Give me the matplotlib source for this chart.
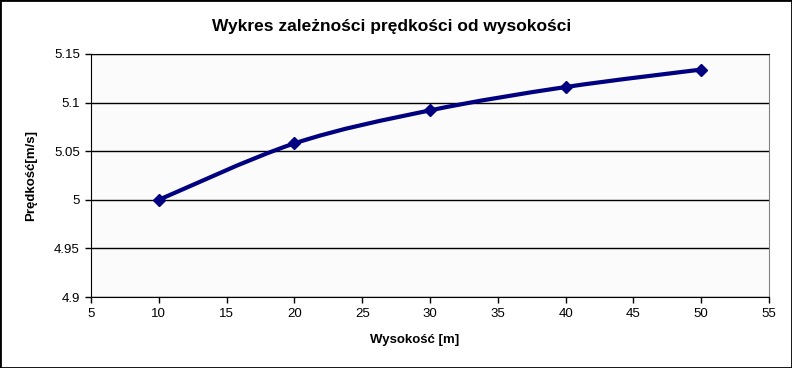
import matplotlib.pyplot as plt
from matplotlib.patches import Rectangle, PathPatch
from matplotlib.path import Path

# data
heights = [10, 20, 30, 40, 50]
speeds = [5.000, 5.058, 5.092, 5.116, 5.134]
xticks = [5, 10, 15, 20, 25, 30, 35, 40, 45, 50, 55]
yticks = [4.9, 4.95, 5.0, 5.05, 5.1, 5.15]
ytick_labels = ["4.9", "4.95", "5", "5.05", "5.1", "5.15"]

plt.rcParams['font.family'] = ['Liberation Sans', 'DejaVu Sans']

fig = plt.figure(figsize=(7.92, 3.68), dpi=100)
ax = fig.add_axes([91/792, 71/368, 678/792, 243/368])
ax.set_facecolor('#fbfbfb')

for y in yticks:
    ax.axhline(y, color='black', lw=1, zorder=1)

# smoothed line (like a spreadsheet's "smoothed line" option), bezier through the points
pts = list(zip(heights, speeds))
verts = [pts[0]]
codes = [Path.MOVETO]
for i in range(len(pts) - 1):
    p0 = pts[i - 1] if i > 0 else pts[i]
    p1, p2 = pts[i], pts[i + 1]
    p3 = pts[i + 2] if i + 2 < len(pts) else p2
    c1 = (p1[0] + (p2[0] - p0[0]) / 6, p1[1] + (p2[1] - p0[1]) / 6)
    c2 = (p2[0] - (p3[0] - p1[0]) / 6, p2[1] - (p3[1] - p1[1]) / 6)
    verts += [c1, c2, p2]
    codes += [Path.CURVE4] * 3
ax.add_patch(PathPatch(Path(verts, codes), facecolor='none', edgecolor='#000080',
                       lw=3, capstyle='round', zorder=3))
ax.plot(heights, speeds, ls='none', color='#000080', marker='D', ms=6, zorder=4)

ax.set_xlim(5, 55)
ax.set_ylim(4.9, 5.15)
ax.set_xticks(xticks)
ax.set_yticks(yticks)
ax.set_yticklabels(ytick_labels)
ax.tick_params(direction='out', length=4, width=1, labelsize=9.5, pad=4)

for s in ['left', 'bottom', 'top']:
    ax.spines[s].set_color('black')
ax.spines['right'].set_color('#808080')

ax.set_xlabel('Wysokość [m]', fontsize=9.5, fontweight='bold')
ax.xaxis.set_label_coords((415 - 91) / 678, -43 / 243)
ax.xaxis.label.set_va('center')
ax.set_ylabel('Prędkość[m/s]', fontsize=9.5, fontweight='bold', labelpad=12)
fig.suptitle('Wykres zależności prędkości od wysokości', x=392/792, y=1 - 27/368, va='center',
             fontsize=12.5, fontweight='bold')

# outer frame
fig.patches.append(Rectangle((0, 0), 1, 1, transform=fig.transFigure, fill=False,
                             edgecolor='black', lw=2))

fig.savefig('out.png', dpi=100, facecolor='white')
